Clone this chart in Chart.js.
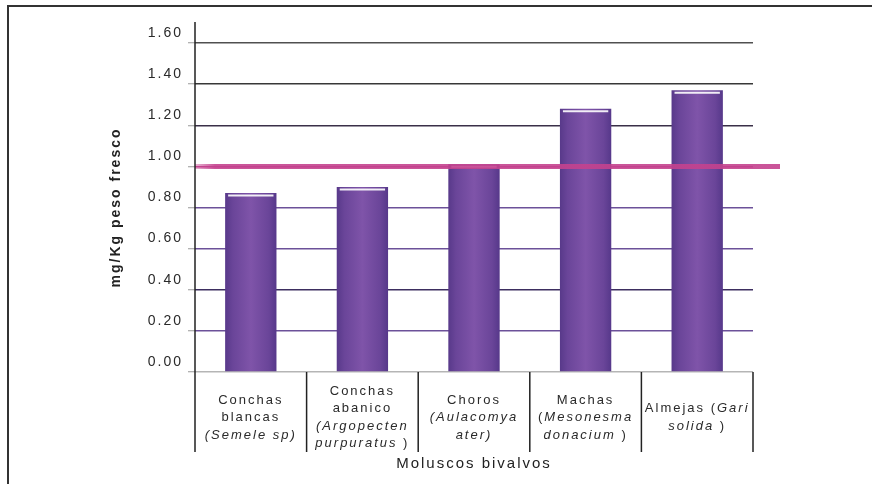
<!DOCTYPE html>
<html>
<head>
<meta charset="utf-8">
<script src="https://cdn.jsdelivr.net/npm/chart.js@4"></script>
<style>
  html, body { margin: 0; padding: 0; background: #fff; }
  #wrap { width: 872px; height: 484px; }
</style>
</head>
<body>
<div id="wrap"><canvas id="molluscChart" width="872" height="484"></canvas></div>
<script>
// Categories (plain names) and how they are wrapped under the axis (*...* = italic)
const categories = [
  "Conchas blancas (Semele sp)",
  "Conchas abanico (Argopecten purpuratus)",
  "Choros (Aulacomya ater)",
  "Machas (Mesonesma donacium)",
  "Almejas (Gari solida)",
];
const categoryLines = [
  ["Conchas", "blancas", "*(Semele sp)*"],
  ["Conchas", "abanico", "*(Argopecten*", "*purpuratus* )"],
  ["Choros", "*(Aulacomya*", "*ater)*"],
  ["Machas", "(*Mesonesma*", "*donacium* )"],
  ["Almejas (*Gari*", "*solida* )"],
];

// mg/Kg peso fresco
const values = [0.87, 0.9, 1.01, 1.28, 1.37];

// reference limit line
const limitValue = [1.0];

// y tick range
const yTicks = [0, 0.2, 0.4, 0.6, 0.8, 1.0, 1.2, 1.4, 1.6];

const gridColors = ["#b5b5b5", "#6c5199", "#3d2e60", "#6c5199", "#6c5199",
  "#c4428e", "#3a3048", "#383838", "#505050"];

const FONT = "'Liberation Sans', Arial, sans-serif";

const decorPlugin = {
  id: "decor",
  beforeDraw(chart) {
    const ctx = chart.ctx;
    ctx.save();
    ctx.strokeStyle = "#333";
    ctx.lineWidth = 2;
    ctx.beginPath();
    ctx.moveTo(8, 484);
    ctx.lineTo(8, 6);
    ctx.lineTo(872, 6);
    ctx.stroke();
    ctx.restore();
    ctx.letterSpacing = "2px";
  },
  beforeDatasetsDraw(chart) {
    // horizontal shading of each bar
    const ctx = chart.ctx;
    chart.getDatasetMeta(0).data.forEach((bar) => {
      const l = bar.x - bar.width / 2;
      const r = bar.x + bar.width / 2;
      if (!isFinite(l) || !isFinite(r)) return;
      const g = ctx.createLinearGradient(l, 0, r, 0);
      g.addColorStop(0, "#58398a");
      g.addColorStop(0.15, "#6a4599");
      g.addColorStop(0.5, "#7f54a9");
      g.addColorStop(0.85, "#6a4599");
      g.addColorStop(1, "#56388a");
      bar.options = Object.assign({}, bar.options, { backgroundColor: g });
    });
  },
  afterDatasetsDraw(chart) {
    const ctx = chart.ctx;
    const ys = chart.scales.y;
    const area = chart.chartArea;
    // white highlight on bar tops
    const meta = chart.getDatasetMeta(0);
    ctx.save();
    meta.data.forEach((bar) => {
      ctx.strokeStyle = "rgba(255,255,255,0.9)";
      ctx.lineWidth = 2;
      ctx.beginPath();
      ctx.moveTo(bar.x - bar.width / 2 + 3, bar.y + 2.5);
      ctx.lineTo(bar.x + bar.width / 2 - 3, bar.y + 2.5);
      ctx.stroke();
    });
    // limit line
    const ly = ys.getPixelForValue(limitValue[0]);
    const lg = ctx.createLinearGradient(area.left, 0, area.left + 20, 0);
    lg.addColorStop(0, "rgba(196,66,142,0.4)");
    lg.addColorStop(1, "rgba(196,66,142,0.9)");
    ctx.strokeStyle = lg;
    ctx.lineWidth = 5;
    ctx.beginPath();
    ctx.moveTo(area.left, ly);
    ctx.lineTo(area.right + 27, ly);
    ctx.stroke();
    ctx.restore();
  },
  afterDraw(chart) {
    const ctx = chart.ctx;
    const xs = chart.scales.x;
    const area = chart.chartArea;
    const step = xs.getPixelForValue(1) - xs.getPixelForValue(0);
    ctx.save();
    // y axis line and table separators
    ctx.strokeStyle = "#222";
    ctx.lineWidth = 1.5;
    ctx.beginPath();
    ctx.moveTo(area.left, 22);
    ctx.lineTo(area.left, area.bottom + 80);
    for (let i = 0; i < categories.length; i++) {
      const bx = xs.getPixelForValue(i) + step / 2;
      ctx.moveTo(bx, area.bottom);
      ctx.lineTo(bx, area.bottom + 80);
    }
    ctx.stroke();
    // category labels with italic parts
    ctx.fillStyle = "#2a2a2a";
    ctx.textBaseline = "middle";
    ctx.textAlign = "left";
    ctx.letterSpacing = "2px";
    const lineH = 17.5;
    const midY = area.bottom + 45.5;
    categoryLines.forEach((lines, i) => {
      const cx = xs.getPixelForValue(i);
      const y0 = midY - ((lines.length - 1) * lineH) / 2;
      lines.forEach((line, j) => {
        const segs = line.split("*").map((t, k) => ({ t, it: k % 2 === 1 })).filter((s) => s.t);
        let total = 0;
        segs.forEach((s) => {
          ctx.font = (s.it ? "italic " : "") + "13px " + FONT;
          s.w = ctx.measureText(s.t).width;
          total += s.w;
        });
        let x = cx - total / 2;
        segs.forEach((s) => {
          ctx.font = (s.it ? "italic " : "") + "13px " + FONT;
          ctx.fillText(s.t, x, y0 + j * lineH);
          x += s.w;
        });
      });
    });
    ctx.restore();
    ctx.letterSpacing = "0px";
  },
};

const data = {
  labels: categories,
  datasets: [
    {
      label: "mg/Kg peso fresco",
      data: values,
      backgroundColor: () => "#6f4a9e",
      borderWidth: 0,
      barPercentage: 0.46,
      categoryPercentage: 1,
    },
  ],
};

const config = {
  type: "bar",
  data: data,
  plugins: [decorPlugin],
  options: {
    responsive: false,
    animation: false,
    layout: { padding: { left: 100, right: 119, top: 43, bottom: 0 } },
    plugins: {
      legend: { display: false },
      tooltip: { enabled: false },
    },
    scales: {
      x: {
        ticks: { display: false },
        grid: { display: false },
        border: { display: false },
        title: {
          display: true,
          text: "Moluscos bivalvos",
          color: "#222",
          font: { family: FONT, size: 15 },
          padding: { top: 0, bottom: 11 },
        },
        afterFit(scale) {
          scale.height = 112;
        },
      },
      y: {
        min: yTicks[0],
        max: yTicks[yTicks.length - 1],
        ticks: {
          stepSize: 0.2,
          color: "#2a2a2a",
          font: { family: FONT, size: 14 },
          padding: 5,
          labelOffset: -10,
          callback: (v) => Number(v).toFixed(2),
        },
        grid: {
          color: (c) => gridColors[c.index] || "#555",
          lineWidth: 1.5,
          tickLength: 7,
          tickColor: "#999",
          tickWidth: 1,
        },
        border: { display: false },
        title: {
          display: true,
          text: "mg/Kg peso fresco",
          color: "#222",
          font: { family: FONT, size: 14, weight: "bold" },
          padding: { top: 8, bottom: 0 },
        },
        afterFit(scale) {
          scale.width = 95;
        },
      },
    },
  },
};

const molluscChart = new Chart(document.getElementById("molluscChart"), config);
</script>
</body>
</html>
